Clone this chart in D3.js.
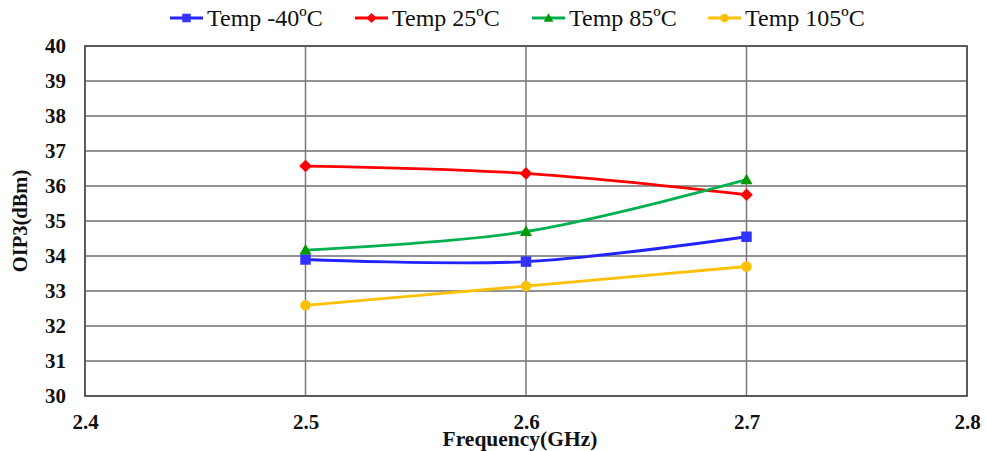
<!DOCTYPE html>
<html>
<head>
<meta charset="utf-8">
<script src="https://cdn.jsdelivr.net/npm/d3@7"></script>
<style>
  html, body { margin: 0; padding: 0; background: #fff; }
  svg { display: block; }
</style>
</head>
<body>
<svg id="chart" width="986" height="451"></svg>
<script>
// Frequency points (GHz)
const frequencies = [2.5, 2.6, 2.7];

// OIP3 (dBm) per temperature
const seriesNames = ["Temp -40ºC", "Temp 25ºC", "Temp 85ºC", "Temp 105ºC"];
const tempMinus40 = [33.90, 33.84, 34.55];
const temp25 = [36.57, 36.36, 35.75];
const temp85 = [34.17, 34.70, 36.18];
const temp105 = [32.59, 33.14, 33.70];

const xTicks = [2.4, 2.5, 2.6, 2.7, 2.8];
const yTicks = [30, 31, 32, 33, 34, 35, 36, 37, 38, 39, 40];

const seriesValues = [tempMinus40, temp25, temp85, temp105];
const lineColors = ["#2323ff", "#ff0000", "#00b050", "#ffc000"];
const markerColors = ["#3333ff", "#ff0000", "#009a00", "#ffc000"];
const markerShapes = ["square", "diamond", "triangle", "circle"];

const svg = d3.select("#chart");
const margin = { left: 85, right: 19, top: 46, bottom: 55 };
const W = 986, H = 451;

const x = d3.scaleLinear().domain([2.4, 2.8]).range([margin.left, W - margin.right]);
const y = d3.scaleLinear().domain([30, 40]).range([H - margin.bottom, margin.top]);

const fontFamily = '"Liberation Serif", "Times New Roman", serif';

// Grid lines
const grid = svg.append("g");
grid.selectAll("line.h").data(yTicks).join("line")
  .attr("x1", x(2.4)).attr("x2", x(2.8))
  .attr("y1", d => y(d)).attr("y2", d => y(d))
  .attr("stroke", "#6e6e6e").attr("stroke-width", 1.5);
grid.selectAll("line.v").data(xTicks).join("line")
  .attr("x1", d => x(d)).attr("x2", d => x(d))
  .attr("y1", y(30)).attr("y2", y(40))
  .attr("stroke", "#7a7a7a").attr("stroke-width", 1.5);

// Plot frame
svg.append("rect")
  .attr("x", x(2.4)).attr("y", y(40))
  .attr("width", x(2.8) - x(2.4)).attr("height", y(30) - y(40))
  .attr("fill", "none").attr("stroke", "#555").attr("stroke-width", 1.8);

// Axes (labels only)
const yAxis = d3.axisLeft(y).tickValues(yTicks).tickSize(0).tickPadding(19).tickFormat(d3.format("d"));
const gy = svg.append("g").attr("transform", `translate(${x(2.4)},0)`).call(yAxis);
gy.attr("font-family", null).attr("font-size", null);
gy.select(".domain").remove();
gy.selectAll("text")
  .style("font-family", fontFamily).style("font-weight", "bold")
  .style("font-size", "21px").attr("fill", "#111");

const xAxis = d3.axisBottom(x).tickValues(xTicks).tickSize(0).tickPadding(18).tickFormat(d3.format(".1f"));
const gx = svg.append("g").attr("transform", `translate(0,${y(30)})`).call(xAxis);
gx.attr("font-family", null).attr("font-size", null);
gx.select(".domain").remove();
gx.selectAll("text")
  .style("font-family", fontFamily).style("font-weight", "bold")
  .style("font-size", "21px").attr("fill", "#111");

// Axis titles
svg.append("text")
  .attr("x", 520).attr("y", 446)
  .attr("text-anchor", "middle")
  .style("font-family", fontFamily).style("font-weight", "bold").style("font-size", "21.5px")
  .attr("fill", "#111")
  .text("Frequency(GHz)");

svg.append("text")
  .attr("transform", "translate(27,221) rotate(-90)")
  .attr("text-anchor", "middle")
  .style("font-family", fontFamily).style("font-weight", "bold").style("font-size", "20.5px")
  .attr("fill", "#111")
  .text("OIP3(dBm)");

// Marker drawing helper
function drawMarker(g, shape, cx, cy, color, s) {
  if (shape === "square") {
    g.append("rect").attr("x", cx - s / 2).attr("y", cy - s / 2)
      .attr("width", s).attr("height", s).attr("fill", color);
  } else if (shape === "diamond") {
    const r = s * 0.6;
    g.append("path").attr("d", `M${cx},${cy - r}L${cx + r},${cy}L${cx},${cy + r}L${cx - r},${cy}Z`)
      .attr("fill", color);
  } else if (shape === "triangle") {
    const h = s * 0.95, w = s * 1.15;
    g.append("path").attr("d", `M${cx},${cy - h * 0.6}L${cx + w / 2},${cy + h * 0.45}L${cx - w / 2},${cy + h * 0.45}Z`)
      .attr("fill", color);
  } else {
    g.append("circle").attr("cx", cx).attr("cy", cy).attr("r", s / 2).attr("fill", color);
  }
}

// Series lines and markers
const line = d3.line()
  .x((d, i) => x(frequencies[i]))
  .y(d => y(d))
  .curve(d3.curveCatmullRom.alpha(0.5));

seriesValues.forEach((vals, k) => {
  const g = svg.append("g");
  g.append("path").datum(vals)
    .attr("d", line)
    .attr("fill", "none")
    .attr("stroke", lineColors[k])
    .attr("stroke-width", 2.8);
  vals.forEach((v, i) => drawMarker(g, markerShapes[k], x(frequencies[i]), y(v), markerColors[k], 10.5));
});

// Legend
const legendX = [170, 355, 532, 708];
const legend = svg.append("g");
seriesNames.forEach((name, k) => {
  const lx = legendX[k], ly = 18;
  legend.append("line")
    .attr("x1", lx).attr("x2", lx + 33).attr("y1", ly).attr("y2", ly)
    .attr("stroke", lineColors[k]).attr("stroke-width", 2.8);
  drawMarker(legend, markerShapes[k], lx + 16.5, ly, markerColors[k], 8.5);
  legend.append("text")
    .attr("x", lx + 37).attr("y", ly + 8)
    .style("font-family", fontFamily).style("font-size", "24px")
    .attr("fill", "#111")
    .text(name);
});
</script>
</body>
</html>
